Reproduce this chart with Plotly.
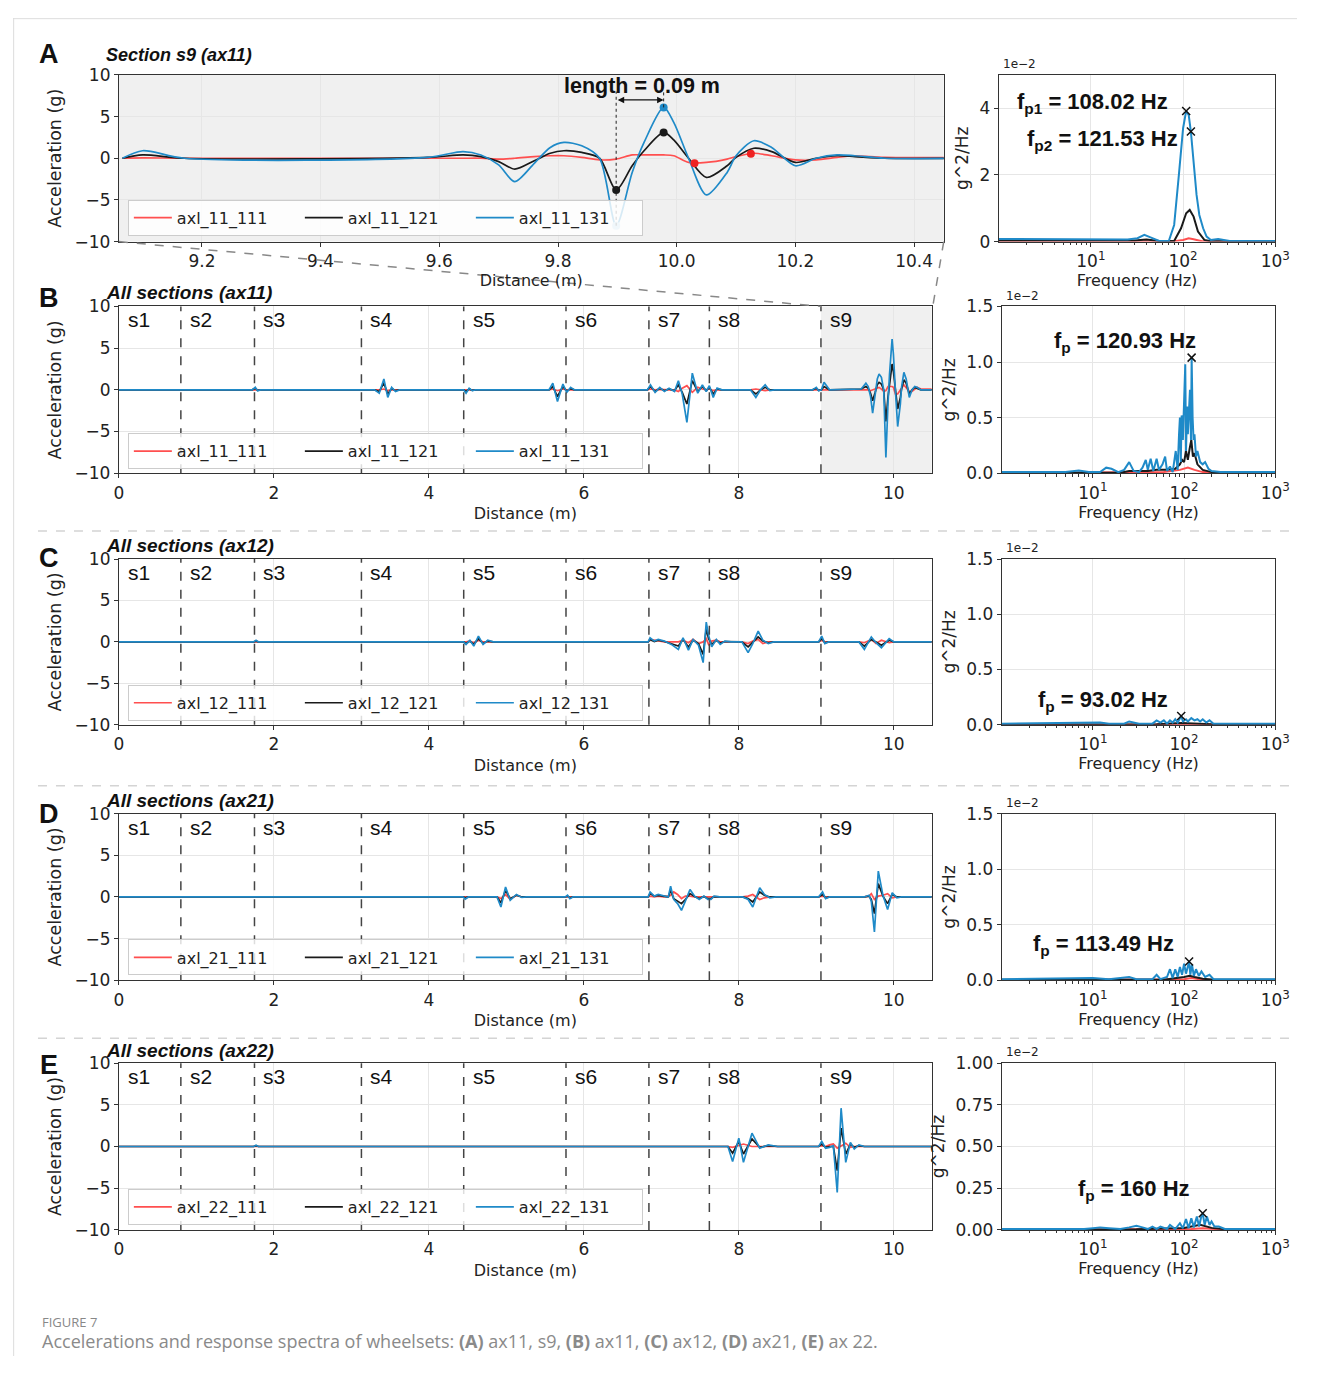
import plotly.graph_objects as go

# Figure sized for the 8px page margin; coordinates below are given in target-picture pixels
# and mapped through the observed capture transform (scale ~0.986, small offset).
OFF = 8
W, H = 1320 - 2 * OFF, 1374 - 2 * OFF
SX, SY, DX, DY = 0.986, 0.987, 5.1, 8.1
def px(x): return ((x - DX) / SX - OFF) / W
def py(y): return 1 - ((y - DY) / SY - OFF) / H

RED = '#ff4f4f'; BLACK = '#1a1a1a'; BLUE = '#1f8ac8'
FONT = 'DejaVu Sans'
AFONT = 'Liberation Sans'

# ---------------- time-domain data (distance in m, acceleration in g) ----------------
# Section s9, axle box ax11 (panel A, also the s9 part of panel B)
s9_x   = [9.066, 9.10, 9.17, 9.58, 9.64, 9.67, 9.70, 9.727, 9.76, 9.787, 9.81, 9.84, 9.87, 9.898, 9.925, 9.945, 9.978, 9.995, 10.02, 10.05, 10.085, 10.10, 10.13, 10.16, 10.20, 10.235, 10.27, 10.30, 10.35, 10.49]
s9_131 = [0, 0.9, 0, 0.1, 0.8, 0.4, -0.8, -2.8, -0.6, 1.3, 1.9, 1.5, 0.0, -8.1, -1.7, 1.9, 6.1, 4.3, 0.0, -4.4, -1.7, 0.3, 2.1, 1.3, -0.9, 0.0, 0.4, 0.3, 0.0, 0.0]
s9_121 = [0, 0.4, 0, 0.1, 0.4, 0.2, -0.4, -1.3, -0.3, 0.6, 0.9, 0.7, 0.0, -3.8, -0.9, 0.9, 3.1, 2.2, 0.0, -2.3, -0.9, 0.1, 1.2, 0.8, -0.5, 0.0, 0.3, 0.2, 0.0, 0.0]
s9_111 = [0, 0.05, 0, 0.0, 0.0, 0.0, -0.1, 0.0, 0.2, 0.3, 0.3, 0.1, -0.2, -0.1, 0.4, 0.4, 0.4, 0.3, -0.5, -0.5, -0.1, 0.2, 0.6, 0.3, -0.2, -0.2, 0.1, 0.3, 0.1, 0.1]

# ax11, sections s1-s8 (panel B, before s9)
ax11_pre_x   = [0.00, 1.72, 1.76, 1.79, 1.83, 3.30, 3.36, 3.42, 3.47, 3.52, 3.57, 3.62, 4.45, 4.48, 4.52, 4.56, 4.60, 5.55, 5.60, 5.66, 5.73, 5.78, 5.83, 5.88, 6.82, 6.86, 6.92, 6.98, 7.04, 7.10, 7.17, 7.22, 7.27, 7.33, 7.40, 7.47, 7.53, 7.58, 7.62, 7.67, 7.72, 7.78, 8.15, 8.22, 8.28, 8.34, 8.40, 8.46, 8.95, 9.00, 9.03]
ax11_pre_131 = [0, 0, 0.3, -0.1, 0, 0, -0.4, 1.3, -0.9, 0.3, -0.2, 0, 0, -0.4, 0.2, -0.1, 0, 0, 0.8, -1.4, 0.7, -0.3, 0.3, 0, 0, 0.6, -0.3, 0.3, -0.2, 0.2, -0.2, 1.1, -0.5, -3.9, 2.0, -0.4, 0.6, -0.2, 0.5, -0.9, 0.2, 0, 0, -0.9, 0, 0.6, -0.1, 0, 0, 0.3, -0.1]
ax11_pre_121 = [0, 0, 0.2, -0.05, 0, 0, -0.2, 0.8, -0.5, 0.15, -0.1, 0, 0, -0.2, 0.1, -0.05, 0, 0, 0.4, -0.8, 0.4, -0.15, 0.15, 0, 0, 0.4, -0.2, 0.2, -0.1, 0.1, -0.1, 0.6, -0.3, -1.7, 1.1, -0.2, 0.4, -0.1, 0.3, -0.5, 0.1, 0, 0, -0.5, 0, 0.3, 0, 0, 0, 0.2, -0.05]
ax11_pre_111 = [0, 0, 0.05, 0, 0, 0, 0, 0.1, -0.1, 0, 0, 0, 0, 0, 0.05, 0, 0, 0, 0.1, -0.1, 0.1, 0, 0, 0, 0, 0.1, 0, 0.05, 0, 0, 0, -0.2, 0.2, 0.5, -0.3, 0.3, 0.1, 0, 0.1, -0.1, 0, 0, 0, 0.1, 0, -0.1, 0, 0, 0, 0.05, 0]

# ax12 (panel C)
ax12_x   = [0.0, 1.74, 1.77, 1.80, 4.45, 4.48, 4.53, 4.58, 4.64, 4.70, 4.76, 4.83, 6.83, 6.855, 6.91, 6.96, 7.04, 7.13, 7.22, 7.28, 7.35, 7.41, 7.48, 7.54, 7.58, 7.61, 7.65, 7.71, 7.76, 7.82, 7.90, 8.04, 8.12, 8.18, 8.25, 8.31, 8.38, 8.45, 9.03, 9.07, 9.11, 9.16, 9.55, 9.62, 9.71, 9.77, 9.84, 9.94, 10.00, 10.49]
ax12_131 = [0, 0, 0.2, 0, 0, -0.3, 0.2, -0.5, 0.7, -0.3, 0.2, 0, 0, 0.5, 0.1, 0.3, 0.1, -0.3, -0.9, 0.5, -1.0, 0.3, -0.4, -2.5, 2.4, 0.8, -0.6, 0.3, -0.3, 0.1, 0, 0, -1.3, -0.2, 1.3, 0.2, -0.2, 0, 0, 0.7, -0.2, 0, 0, -0.9, 0.6, -0.1, -0.7, 0.4, 0, 0]
ax12_121 = [0, 0, 0.1, 0, 0, -0.2, 0.1, -0.3, 0.4, -0.2, 0.1, 0, 0, 0.3, 0.05, 0.2, 0.05, -0.2, -0.5, 0.3, -0.6, 0.2, -0.2, -1.5, 1.6, 0.4, -0.3, 0.2, -0.15, 0.05, 0, 0, -0.6, -0.1, 0.6, 0.1, -0.1, 0, 0, 0.4, -0.1, 0, 0, -0.5, 0.3, 0, -0.4, 0.2, 0, 0]
ax12_111 = [0, 0, 0.05, 0, 0, 0, 0.1, -0.1, 0.2, 0, 0, 0, 0, 0.3, 0.2, 0.1, 0, 0, 0, 0.2, -0.1, 0.3, -0.2, 0, 0.4, -0.3, 0.1, 0.2, 0, 0, 0, 0, -0.2, 0.1, 0.3, -0.2, 0, 0, 0, 0.2, 0, 0, 0, -0.1, 0.3, -0.2, 0.2, -0.1, 0, 0]

# ax21 (panel D)
ax21_x   = [0.0, 4.44, 4.47, 4.51, 4.88, 4.93, 4.99, 5.05, 5.13, 5.20, 5.26, 5.76, 5.79, 5.82, 5.86, 6.83, 6.855, 6.91, 6.96, 7.03, 7.09, 7.12, 7.16, 7.21, 7.26, 7.31, 7.37, 7.43, 7.49, 7.55, 7.60, 7.64, 7.68, 7.75, 8.05, 8.12, 8.18, 8.27, 8.33, 8.40, 8.48, 9.03, 9.08, 9.12, 9.17, 9.62, 9.68, 9.71, 9.75, 9.80, 9.86, 9.92, 9.98, 10.04, 10.10, 10.49]
ax21_131 = [0, 0, -0.25, 0, 0, -1.2, 1.2, -0.4, 0.3, -0.05, 0, 0, 0.2, -0.2, 0, 0, 0.6, 0.1, 0.3, 0.1, 0.0, 1.3, -0.3, -0.8, -1.6, -0.5, 0.9, 0.1, -0.3, 0.1, -0.3, -0.3, 0.1, 0, 0, -0.3, -1.2, 1.1, 0.3, -0.1, 0, 0, 0.6, -0.2, 0, 0, 0.2, -0.5, -4.2, 3.1, 0.2, -1.5, 0.5, -0.1, 0, 0]
ax21_121 = [0, 0, -0.1, 0, 0, -0.7, 0.8, -0.2, 0.2, 0, 0, 0, 0.1, -0.1, 0, 0, 0.4, 0.1, 0.2, 0.1, 0.0, 0.8, -0.2, -0.5, -0.8, -0.3, 0.4, 0.05, -0.2, 0.05, -0.2, -0.2, 0.05, 0, 0, -0.2, -0.6, 0.6, 0.2, 0, 0, 0, 0.3, -0.1, 0, 0, 0.1, -0.3, -2.0, 1.6, 0.1, -0.8, 0.3, 0, 0, 0]
ax21_111 = [0, 0, 0, 0, 0, -0.2, 0.3, -0.3, 0.2, 0, 0, 0, 0.05, 0, 0, 0, 0.1, 0, 0.1, 0, 0.1, 0.2, 0.6, 0.3, -0.2, 0.1, 0.1, 0, 0, 0, 0, 0, 0, 0, 0, 0.1, 0.3, -0.3, -0.1, 0, 0, 0, 0.1, 0, 0, 0, 0.1, 0.4, -0.3, 0.1, 0.2, 0.4, -0.1, 0, 0, 0]

# ax22 (panel E)
ax22_x   = [0.0, 1.74, 1.77, 1.80, 7.86, 7.92, 8.00, 8.06, 8.17, 8.27, 8.38, 8.50, 9.03, 9.07, 9.12, 9.17, 9.22, 9.27, 9.32, 9.38, 9.44, 9.49, 9.55, 9.62, 10.49]
ax22_131 = [0, 0, 0.15, 0, 0, -1.8, 1.0, -1.9, 1.6, -0.2, 0.2, 0, 0, 0.6, -0.2, -0.1, 0.1, -5.5, 4.6, -1.9, 0.5, -0.3, 0.2, 0, 0]
ax22_121 = [0, 0, 0.1, 0, 0, -0.8, 0.6, -0.9, 0.9, -0.1, 0.1, 0, 0, 0.3, -0.1, 0, 0, -2.9, 2.2, -0.9, 0.3, -0.1, 0.1, 0, 0]
ax22_111 = [0, 0, 0.05, 0, 0, -0.1, 0.1, 0.3, 0, 0, 0, 0, 0, 0.1, 0, 0.2, 0.3, -0.2, 0.1, 0.4, -0.1, 0, 0, 0, 0]

# ---------------- PSD data (frequency in Hz, PSD in 1e-2 g^2/Hz) ----------------
fA_131 = [1, 10, 25, 32, 38, 45, 55, 70, 80, 90, 100, 108, 115, 121.5, 130, 140, 150, 165, 180, 200, 240, 280, 320, 1000]
pA_131 = [0.08, 0.08, 0.06, 0.1, 0.2, 0.12, 0.02, 0.02, 0.5, 2.0, 3.4, 3.92, 3.8, 3.3, 2.4, 1.4, 0.8, 0.4, 0.15, 0.05, 0.08, 0.06, 0.02, 0.02]
fA_121 = [1, 30, 40, 55, 80, 95, 108, 118, 130, 145, 170, 200, 1000]
pA_121 = [0.03, 0.03, 0.06, 0.02, 0.02, 0.4, 0.85, 0.95, 0.75, 0.3, 0.05, 0.01, 0.01]
fA_111 = [1, 80, 100, 115, 130, 160, 1000]
pA_111 = [0.01, 0.01, 0.05, 0.1, 0.07, 0.01, 0.01]

fB_131 = [1, 5, 7, 9, 12, 14, 16, 19, 22, 25, 28, 32, 35, 38, 40, 43, 46, 50, 53, 58, 62, 65, 70, 75, 81, 85, 88, 90, 92, 94, 97, 100, 103, 105, 108, 110, 113, 116, 119, 121, 124, 127, 130, 135, 140, 150, 160, 170, 185, 200, 250, 1000]
pB_131 = [0.01, 0.01, 0.025, 0.01, 0.01, 0.05, 0.04, 0.01, 0.03, 0.1, 0.02, 0.01, 0.05, 0.12, 0.03, 0.13, 0.02, 0.13, 0.03, 0.08, 0.15, 0.02, 0.06, 0.01, 0.2, 0.03, 0.35, 0.5, 0.1, 0.52, 0.3, 0.6, 0.98, 0.2, 0.6, 0.35, 0.5, 0.75, 0.3, 1.04, 0.5, 0.3, 0.35, 0.15, 0.2, 0.1, 0.08, 0.1, 0.04, 0.02, 0.01, 0.01]
fB_121 = [1, 20, 25, 40, 50, 62, 80, 90, 95, 100, 105, 110, 115, 120, 125, 130, 140, 160, 200, 1000]
pB_121 = [0.005, 0.005, 0.02, 0.02, 0.03, 0.03, 0.04, 0.08, 0.12, 0.1, 0.2, 0.12, 0.22, 0.3, 0.15, 0.18, 0.08, 0.03, 0.01, 0.005]
fB_111 = [1, 25, 60, 90, 110, 130, 160, 1000]
pB_111 = [0.002, 0.005, 0.01, 0.03, 0.05, 0.03, 0.01, 0.002]

fC_131 = [1, 8, 10, 12, 15, 22, 25, 28, 32, 45, 50, 55, 60, 65, 70, 75, 80, 85, 90, 93, 97, 105, 110, 120, 130, 140, 150, 160, 175, 190, 210, 300, 1000]
pC_131 = [0.01, 0.02, 0.025, 0.02, 0.01, 0.01, 0.03, 0.02, 0.01, 0.01, 0.04, 0.02, 0.04, 0.01, 0.04, 0.02, 0.05, 0.02, 0.06, 0.08, 0.03, 0.05, 0.03, 0.06, 0.04, 0.05, 0.03, 0.05, 0.02, 0.04, 0.01, 0.01, 0.01]
fC_121 = [1, 50, 93, 130, 200, 1000]
pC_121 = [0.003, 0.005, 0.015, 0.01, 0.005, 0.003]
fC_111 = [1, 90, 1000]
pC_111 = [0.002, 0.006, 0.002]

fD_131 = [1, 8, 10, 15, 22, 25, 30, 45, 50, 55, 65, 70, 75, 80, 85, 90, 95, 100, 105, 110, 113.5, 117, 122, 128, 135, 145, 155, 170, 190, 210, 1000]
pD_131 = [0.01, 0.02, 0.02, 0.01, 0.03, 0.03, 0.01, 0.01, 0.05, 0.01, 0.03, 0.1, 0.02, 0.1, 0.03, 0.12, 0.05, 0.15, 0.06, 0.12, 0.17, 0.05, 0.14, 0.04, 0.1, 0.04, 0.08, 0.03, 0.05, 0.01, 0.01]
fD_121 = [1, 60, 100, 115, 130, 160, 220, 1000]
pD_121 = [0.004, 0.006, 0.03, 0.04, 0.03, 0.015, 0.005, 0.004]
fD_111 = [1, 100, 120, 160, 1000]
pD_111 = [0.002, 0.01, 0.02, 0.005, 0.002]

fE_131 = [1, 8, 10, 12, 15, 20, 25, 30, 35, 40, 45, 50, 55, 65, 70, 80, 90, 97, 105, 112, 120, 128, 138, 146, 155, 160, 168, 178, 190, 200, 215, 240, 280, 1000]
pE_131 = [0.005, 0.005, 0.01, 0.015, 0.01, 0.005, 0.015, 0.025, 0.015, 0.005, 0.02, 0.005, 0.02, 0.005, 0.03, 0.005, 0.04, 0.01, 0.065, 0.01, 0.07, 0.015, 0.08, 0.02, 0.085, 0.1, 0.03, 0.08, 0.03, 0.05, 0.02, 0.02, 0.005, 0.005]
fE_121 = [1, 30, 100, 150, 200, 300, 1000]
pE_121 = [0.002, 0.004, 0.012, 0.03, 0.012, 0.003, 0.002]
fE_111 = [1, 120, 160, 250, 1000]
pE_111 = [0.001, 0.005, 0.01, 0.003, 0.001]

# peak markers
peaks_A_f = [108.02, 121.53]; peaks_A_p = [3.92, 3.30]
peak_B = (120.93, 1.04); peak_C = (93.02, 0.08); peak_D = (113.49, 0.17); peak_E = (160, 0.10)

section_bounds = [0.80, 1.75, 3.13, 4.45, 5.77, 6.84, 7.62, 9.06]
section_names = ['s1', 's2', 's3', 's4', 's5', 's6', 's7', 's8', 's9']

# ---------------- figure ----------------
fig = go.Figure()
layout = dict(width=W, height=H, margin=dict(l=0, r=0, t=0, b=0),
              paper_bgcolor='white', plot_bgcolor='white', showlegend=True)

def ax_common():
    return dict(showline=True, mirror=True, linecolor='#333333', linewidth=1,
                ticks='outside', ticklen=4, tickwidth=1, tickcolor='#333333',
                tickfont=dict(family=FONT, size=17, color='#222222'),
                showgrid=True, gridcolor='#e6e6e6', gridwidth=1, zeroline=False)

def aname(n, kind):
    return f'{kind}axis' if n == 1 else f'{kind}axis{n}'

def aref(n, kind):
    return kind if n == 1 else f'{kind}{n}'

left = [
    (1, (119, 945, 73, 240), [9.06, 10.45], [9.2, 9.4, 9.6, 9.8, 10.0, 10.2, 10.4], 'legend', '11',
     s9_x, s9_111, s9_121, s9_131),
    (3, (119, 933, 305, 472), [0, 10.49], [0, 2, 4, 6, 8, 10], 'legend2', '11',
     ax11_pre_x + s9_x, ax11_pre_111 + s9_111, ax11_pre_121 + s9_121, ax11_pre_131 + s9_131),
    (5, (119, 933, 558, 724), [0, 10.49], [0, 2, 4, 6, 8, 10], 'legend3', '12',
     ax12_x, ax12_111, ax12_121, ax12_131),
    (7, (119, 933, 813, 980), [0, 10.49], [0, 2, 4, 6, 8, 10], 'legend4', '21',
     ax21_x, ax21_111, ax21_121, ax21_131),
    (9, (119, 933, 1063, 1230), [0, 10.49], [0, 2, 4, 6, 8, 10], 'legend5', '22',
     ax22_x, ax22_111, ax22_121, ax22_131),
]
legend_tops = {'legend': 198, 'legend2': 432, 'legend3': 684, 'legend4': 939, 'legend5': 1189}

shapes = []
annotations = []

for n, (l, r, t, b), xr, xt, leg, ax, xs, y111, y121, y131 in left:
    xa = ax_common(); ya = ax_common()
    xa.update(domain=[px(l), px(r)], anchor=aref(n, 'y'), range=xr, tickvals=xt,
              ticktext=[f'{v:.1f}' if n == 1 else f'{v:g}' for v in xt],
              title=dict(text='Distance (m)', font=dict(family=FONT, size=16, color='#222'),
                         standoff=0 if n == 1 else 6))
    ya.update(domain=[py(b), py(t)], anchor=aref(n, 'x'), range=[-10, 10],
              tickvals=[-10, -5, 0, 5, 10], ticktext=['\u221210', '\u22125', '0', '5', '10'],
              title=dict(text='Acceleration (g)', font=dict(family=FONT, size=17.5, color='#222'), standoff=8))
    layout[aname(n, 'x')] = xa
    layout[aname(n, 'y')] = ya
    shape = 'spline' if n == 1 else 'linear'
    for nm, ys, col in [('111', y111, RED), ('121', y121, BLACK), ('131', y131, BLUE)]:
        fig.add_trace(go.Scatter(x=xs, y=ys, mode='lines', name=f'axl_{ax}_{nm}',
                                 line=dict(color=col, width=1.7, shape=shape, smoothing=0.8),
                                 xaxis=aref(n, 'x'), yaxis=aref(n, 'y'), legend=leg, hoverinfo='skip'))
    layout[leg] = dict(x=px(128), y=py(legend_tops[leg]), xanchor='left', yanchor='top',
                       orientation='h', bgcolor='rgba(255,255,255,0.82)', bordercolor='#cccccc',
                       borderwidth=1, font=dict(family=FONT, size=16, color='#222'),
                       entrywidth=118, itemwidth=38, tracegroupgap=0)
    if n == 1:
        shapes.append(dict(type='rect', xref='x domain', yref='y domain', x0=0, x1=1, y0=0, y1=1,
                           fillcolor='#f0f0f0', line=dict(width=0), layer='below'))
    else:
        if n == 3:
            shapes.append(dict(type='rect', xref='x3', yref='y3 domain', x0=9.06, x1=10.49, y0=0, y1=1,
                               fillcolor='#f0f0f0', line=dict(width=0), layer='below'))
        for sb in section_bounds:
            shapes.append(dict(type='line', xref=aref(n, 'x'), yref=f'{aref(n, "y")} domain',
                               x0=sb, x1=sb, y0=0, y1=1, line=dict(color='#444444', width=1.5, dash='dash')))
        for sx, sn in zip([0] + section_bounds, section_names):
            annotations.append(dict(x=sx + 0.09, y=10, xref=aref(n, 'x'), yref=aref(n, 'y'),
                                    text=sn, showarrow=False, xanchor='left', yanchor='top', yshift=0,
                                    font=dict(family=AFONT, size=21, color='#111')))

right = [
    (2, (1000, 1277, 73, 240), [0, 5], [0, 2, 4], ['0', '2', '4'],
     fA_111, pA_111, fA_121, pA_121, fA_131, pA_131),
    (4, (1003, 1277, 305, 472), [0, 1.5], [0, 0.5, 1.0, 1.5], ['0.0', '0.5', '1.0', '1.5'],
     fB_111, pB_111, fB_121, pB_121, fB_131, pB_131),
    (6, (1003, 1277, 558, 724), [0, 1.5], [0, 0.5, 1.0, 1.5], ['0.0', '0.5', '1.0', '1.5'],
     fC_111, pC_111, fC_121, pC_121, fC_131, pC_131),
    (8, (1003, 1277, 813, 980), [0, 1.5], [0, 0.5, 1.0, 1.5], ['0.0', '0.5', '1.0', '1.5'],
     fD_111, pD_111, fD_121, pD_121, fD_131, pD_131),
    (10, (1003, 1277, 1063, 1230), [0, 1.0], [0, 0.25, 0.5, 0.75, 1.0], ['0.00', '0.25', '0.50', '0.75', '1.00'],
     fE_111, pE_111, fE_121, pE_121, fE_131, pE_131),
]
minor_vals = [m * 10 ** d for d in range(0, 3) for m in range(2, 10)]
for n, (l, r, t, b), yr, yt, ytt, f1, p1, f2, p2, f3, p3 in right:
    xa = ax_common(); ya = ax_common()
    xa.update(domain=[px(l), px(r)], anchor=aref(n, 'y'), type='log', range=[0, 3],
              tickvals=[10, 100, 1000], ticktext=['10<sup>1</sup>', '10<sup>2</sup>', '10<sup>3</sup>'],
              minor=dict(tickvals=minor_vals, ticks='outside', ticklen=2.5, tickcolor='#333', showgrid=False),
              title=dict(text='Frequency (Hz)', font=dict(family=FONT, size=16, color='#222'),
                         standoff=0 if n == 2 else 4))
    ya.update(domain=[py(b), py(t)], anchor=aref(n, 'x'), range=yr, tickvals=yt, ticktext=ytt,
              title=dict(text='g^2/Hz', font=dict(family=FONT, size=17, color='#222'), standoff=6))
    layout[aname(n, 'x')] = xa
    layout[aname(n, 'y')] = ya
    for fx, py_, col in [(f1, p1, RED), (f2, p2, BLACK), (f3, p3, BLUE)]:
        fig.add_trace(go.Scatter(x=fx, y=py_, mode='lines', line=dict(color=col, width=2),
                                 xaxis=aref(n, 'x'), yaxis=aref(n, 'y'), showlegend=False, hoverinfo='skip'))
    annotations.append(dict(x=px(l + 2), y=py(t - 2), xref='paper', yref='paper', text='1e\u22122',
                            showarrow=False, xanchor='left', yanchor='bottom',
                            font=dict(family=FONT, size=12, color='#222')))

mk = dict(symbol='x-thin-open', size=8, line=dict(color='#111', width=1.5), color='#111')
for n, fx, fy in [(2, peaks_A_f, peaks_A_p), (4, [peak_B[0]], [peak_B[1]]), (6, [peak_C[0]], [peak_C[1]]),
                  (8, [peak_D[0]], [peak_D[1]]), (10, [peak_E[0]], [peak_E[1]])]:
    fig.add_trace(go.Scatter(x=fx, y=fy, mode='markers', marker=mk, xaxis=aref(n, 'x'), yaxis=aref(n, 'y'),
                             showlegend=False, hoverinfo='skip'))

# panel A highlight markers
fig.add_trace(go.Scatter(x=[9.978], y=[6.1], mode='markers', marker=dict(color=BLUE, size=8),
                         showlegend=False, hoverinfo='skip'))
fig.add_trace(go.Scatter(x=[9.978, 9.898], y=[3.1, -3.8], mode='markers', marker=dict(color=BLACK, size=8),
                         showlegend=False, hoverinfo='skip'))
fig.add_trace(go.Scatter(x=[9.898], y=[-8.1], mode='markers', marker=dict(color='#a9d3ea', size=8),
                         showlegend=False, hoverinfo='skip'))
fig.add_trace(go.Scatter(x=[10.03, 10.125], y=[-0.6, 0.55], mode='markers', marker=dict(color='#ee2222', size=8),
                         showlegend=False, hoverinfo='skip'))

# length annotation in A
shapes.append(dict(type='line', xref='x', yref='y', x0=9.898, x1=9.898, y0=-8.1, y1=8.0,
                   line=dict(color='#222', width=1, dash='dot')))
shapes.append(dict(type='line', xref='x', yref='y', x0=9.978, x1=9.978, y0=6.1, y1=8.0,
                   line=dict(color='#222', width=1, dash='dot')))
annotations.append(dict(x=9.978, y=7.0, ax=9.898, ay=7.0, xref='x', yref='y', axref='x', ayref='y',
                        text='', showarrow=True, arrowhead=2, arrowside='end+start', arrowsize=1,
                        arrowwidth=1.3, arrowcolor='#111'))
annotations.append(dict(x=px(643), y=py(84), xref='paper', yref='paper', text='<b>length = 0.09 m</b>',
                        showarrow=False, xanchor='center', yanchor='middle',
                        font=dict(family=AFONT, size=21.5, color='#111')))

for txt, x0, y0 in [('<b>f<sub>p1</sub> = 108.02 Hz</b>', 1016, 101), ('<b>f<sub>p2</sub> = 121.53 Hz</b>', 1026, 138),
                    ('<b>f<sub>p</sub> = 120.93 Hz</b>', 1053, 341), ('<b>f<sub>p</sub> = 93.02 Hz</b>', 1037, 700),
                    ('<b>f<sub>p</sub> = 113.49 Hz</b>', 1032, 945), ('<b>f<sub>p</sub> = 160 Hz</b>', 1077, 1190)]:
    annotations.append(dict(x=px(x0), y=py(y0), xref='paper', yref='paper', text=txt, showarrow=False,
                            xanchor='left', yanchor='middle', font=dict(family=AFONT, size=22, color='#111')))

for letter, ly, title, ty, tsz in [('A', 52, 'Section s9 (ax11)', 53, 18), ('B', 296, 'All sections (ax11)', 291, 19),
                                   ('C', 557, 'All sections (ax12)', 544, 19), ('D', 813, 'All sections (ax21)', 800, 19),
                                   ('E', 1065, 'All sections (ax22)', 1050, 19)]:
    annotations.append(dict(x=px(49), y=py(ly), xref='paper', yref='paper', text=f'<b>{letter}</b>',
                            showarrow=False, xanchor='center', yanchor='middle',
                            font=dict(family=AFONT, size=27, color='#111')))
    annotations.append(dict(x=px(104), y=py(ty), xref='paper', yref='paper', text=f'<b><i>{title}</i></b>',
                            showarrow=False, xanchor='left', yanchor='middle',
                            font=dict(family=AFONT, size=tsz, color='#111')))

annotations.append(dict(x=px(40), y=py(1322), xref='paper', yref='paper', text='FIGURE 7', showarrow=False,
                        xanchor='left', yanchor='middle', font=dict(family='Open Sans', size=13, color='#888')))
annotations.append(dict(x=px(40), y=py(1341), xref='paper', yref='paper',
                        text='Accelerations and response spectra of wheelsets: <b>(A)</b> ax11, s9, <b>(B)</b> ax11, '
                             '<b>(C)</b> ax12, <b>(D)</b> ax21, <b>(E)</b> ax 22.',
                        showarrow=False, xanchor='left', yanchor='middle',
                        font=dict(family='Open Sans', size=18, color='#8a8a8a')))

# page-level decorations (border drawn at the figure's own top/left edge)
shapes.append(dict(type='line', xref='paper', yref='paper', x0=0, x1=1, y0=0.9995, y1=0.9995,
                   line=dict(color='#dddddd', width=1)))
shapes.append(dict(type='line', xref='paper', yref='paper', x0=0.0005, x1=0.0005, y0=0, y1=1,
                   line=dict(color='#dddddd', width=1)))
for ys in [530, 785, 1038]:
    shapes.append(dict(type='line', xref='paper', yref='paper', x0=px(38), x1=px(1292), y0=py(ys), y1=py(ys),
                       line=dict(color='#d4d4d4', width=1.5, dash='dash')))
shapes.append(dict(type='line', xref='paper', yref='paper', x0=px(119), x1=px(823), y0=py(240), y1=py(305),
                   line=dict(color='#888888', width=1.5, dash='dash')))
shapes.append(dict(type='line', xref='paper', yref='paper', x0=px(945), x1=px(934), y0=py(240), y1=py(305),
                   line=dict(color='#888888', width=1.5, dash='dash')))

layout['shapes'] = shapes
layout['annotations'] = annotations
fig.update_layout(**layout)
fig.write_html('out.html')
